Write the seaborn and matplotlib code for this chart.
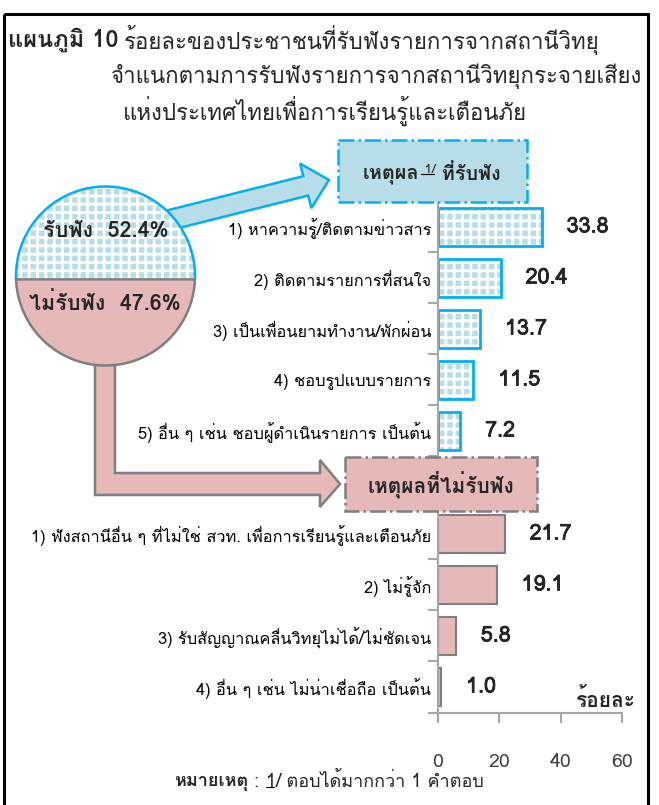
import numpy as np
import pandas as pd
import seaborn as sns
import matplotlib.pyplot as plt
import matplotlib.patheffects as pe
from matplotlib import font_manager as fm
from matplotlib.ft2font import FT2Font
from matplotlib.patches import Rectangle, Polygon, FancyArrow

# data
listen_share = 52.4
not_listen_share = 47.6

listen_reasons = ["1) หาความรู้/ติดตามข่าวสาร", "2) ติดตามรายการที่สนใจ",
                  "3) เป็นเพื่อนยามทำงาน/พักผ่อน", "4) ชอบรูปแบบรายการ",
                  "5) อื่น ๆ เช่น ชอบผู้ดำเนินรายการ เป็นต้น"]
listen_pct = [33.8, 20.4, 13.7, 11.5, 7.2]

not_listen_reasons = ["1) ฟังสถานีอื่น ๆ ที่ไม่ใช่ สวท. เพื่อการเรียนรู้และเตือนภัย",
                      "2) ไม่รู้จัก", "3) รับสัญญาณคลื่นวิทยุไม่ได้/ไม่ชัดเจน",
                      "4) อื่น ๆ เช่น ไม่น่าเชื่อถือ เป็นต้น"]
not_listen_pct = [21.7, 19.1, 5.8, 1.0]

x_ticks = [0, 20, 40, 60]

BLUE_FILL = "#b7dde8"
BLUE_EDGE = "#00b0f0"
PINK_FILL = "#e6b8b7"
GRAY = "#7f7f7f"
AXIS_GRAY = "#a6a6a6"


def find_thai_font():
    weights = {}
    for f in fm.fontManager.ttflist:
        try:
            if 0x0E01 in FT2Font(f.fname).get_charmap():
                w = f.weight if isinstance(f.weight, int) else 400
                weights.setdefault(f.name, set()).add(w)
        except Exception:
            continue
    if not weights:
        return None, False
    prefs = ["Tahoma", "Leelawadee UI", "Noto Sans Thai", "Noto Sans Thai Looped",
             "Loma", "Garuda", "Sarabun", "Waree"]
    names = [p for p in prefs if p in weights] + sorted(weights)
    with_bold = [n for n in names if max(weights[n]) >= 600]
    name = with_bold[0] if with_bold else names[0]
    return name, max(weights[name]) >= 600


sns.set_theme(style="white")
thai, has_bold = find_thai_font()
plt.rcParams["font.family"] = [thai, "DejaVu Sans"] if thai else ["DejaVu Sans"]
plt.rcParams["hatch.linewidth"] = 2.0


def bold(stroke=0.9):
    if has_bold:
        return dict(fontweight="bold")
    return dict(path_effects=[pe.withStroke(linewidth=stroke, foreground="black")])


fig = plt.figure(figsize=(6.59, 8.05), dpi=100)
W, H = 659, 805

# background layer in pixel coordinates
bg = fig.add_axes([0, 0, 1, 1])
bg.set_xlim(0, W)
bg.set_ylim(H, 0)
bg.axis("off")
bg.set_zorder(3)

bg.add_patch(Rectangle((4, 14), 644, 800, fill=False, edgecolor="black", lw=2.2))

# title
bg.text(8, 40, "แผนภูมิ 10", fontsize=17, va="center", **bold(1.0))
bg.text(124, 40, "ร้อยละของประชาชนที่รับฟังรายการจากสถานีวิทยุ", fontsize=16, va="center")
bg.text(111, 76, "จำแนกตามการรับฟังรายการจากสถานีวิทยุกระจายเสียง", fontsize=16, va="center")
bg.text(123, 111, "แห่งประเทศไทยเพื่อการเรียนรู้และเตือนภัย", fontsize=16, va="center")

# arrows
bg.add_patch(FancyArrow(150, 225, 179, -45, width=20, head_width=46, head_length=24,
                        length_includes_head=True, facecolor=BLUE_FILL,
                        edgecolor=BLUE_EDGE, lw=1.8, zorder=1))
bg.add_patch(Polygon([(95, 330), (115, 330), (115, 473), (320, 473), (320, 460),
                      (340, 484), (320, 507), (320, 495), (95, 495)], closed=True,
                     facecolor=PINK_FILL, edgecolor=GRAY, lw=1.8, zorder=1))

# split circle: top area = listen share
cx, cy, r = 105.5, 276, 89.5
frac_below = not_listen_share / (listen_share + not_listen_share)
lo, hi = -r, r
for _ in range(60):
    d = (lo + hi) / 2
    th = 2 * np.arccos(d / r)
    if (th - np.sin(th)) / (2 * np.pi) > frac_below:
        lo = d
    else:
        hi = d
a0 = np.arcsin(d / r)
t_top = np.linspace(-a0, np.pi + a0, 200)
t_bot = np.linspace(np.pi + a0, 2 * np.pi - a0, 200)
top_pts = np.column_stack([cx + r * np.cos(t_top), cy - r * np.sin(t_top)])
bot_pts = np.column_stack([cx + r * np.cos(t_bot), cy - r * np.sin(t_bot)])
bg.add_patch(Polygon(top_pts, closed=True, facecolor=BLUE_FILL, edgecolor="white",
                     hatch="++", lw=0, zorder=2))
bg.plot(top_pts[:, 0], top_pts[:, 1], color=BLUE_EDGE, lw=1.8, zorder=2)
bg.add_patch(Polygon(bot_pts, closed=True, facecolor=PINK_FILL, edgecolor=GRAY,
                     lw=1.8, zorder=2))
bg.text(cx, 231, f"รับฟัง  {listen_share:.1f}%", fontsize=15.5,
        ha="center", va="center", zorder=4, **bold(0.7))
bg.text(cx - 1, 303, f"ไม่รับฟัง  {not_listen_share:.1f}%", fontsize=15.5,
        ha="center", va="center", zorder=4, **bold(0.7))

# header boxes
bg.add_patch(Rectangle((338, 140), 189, 62, facecolor=BLUE_FILL, edgecolor=BLUE_EDGE,
                       lw=1.8, ls="-.", zorder=2))
bg.add_patch(Rectangle((345, 457), 192, 54, facecolor=PINK_FILL, edgecolor=GRAY,
                       lw=1.8, ls="-.", zorder=2))
bg.text(441, 485, "เหตุผลที่ไม่รับฟัง", fontsize=15,
        ha="center", va="center", zorder=4, **bold(1.0))


def chain(x, y, pieces):
    texts = []
    for s, rise, kw in pieces:
        if not texts:
            t = bg.text(x, y, s, ha="left", va="bottom", zorder=5, **kw)
        else:
            t = bg.annotate(s, xy=(1, rise), xycoords=(texts[-1], texts[0]),
                            ha="left", va="bottom", zorder=5, **kw)
        texts.append(t)
    return texts


def center_chain(texts, center_x):
    fig.canvas.draw()
    x0 = texts[0].get_window_extent().x0
    x1 = texts[-1].get_window_extent().x1
    x, y = texts[0].get_position()
    texts[0].set_position((center_x - (x1 - x0) / 2, y))


def underline(t):
    fig.canvas.draw()
    bb = t.get_window_extent()
    inv = bg.transData.inverted()
    (ax0, ay0), (ax1_, ay1) = inv.transform([(bb.x0, bb.y0), (bb.x1, bb.y1)])
    yl = ay0 - (ay0 - ay1) * 0.2
    bg.plot([ax0 + 1, ax1_ - 1], [yl, yl], color="black", lw=0.8, zorder=5)


box_txt = chain(362, 184, [("เหตุผล", 0, dict(fontsize=14.3, **bold(1.0))),
                            (" 1/", 0.42, dict(fontsize=9.5)),
                            (" ที่รับฟัง", 0, dict(fontsize=14.3, **bold(1.0)))])
center_chain(box_txt, 432)

note = chain(172, 791, [("หมายเหตุ", 0, dict(fontsize=13, **bold(0.8))),
                        (" : ", 0, dict(fontsize=13)),
                        ("1", 0, dict(fontsize=13)),
                        ("/ ตอบได้มากกว่า 1 คำตอบ", 0, dict(fontsize=13))])
center_chain(note, 329)

bg.text(606, 699, "ร้อยละ", fontsize=15, ha="center", va="center", **bold(0.9))


def style_bar_axes(ax, n):
    ax.set_facecolor("none")
    ax.set_xlim(0, 60)
    ax.set_ylim(n - 0.5, -0.5)
    ax.set_xlabel("")
    ax.set_ylabel("")
    for s in ["top", "right"]:
        ax.spines[s].set_visible(False)
    ax.spines["left"].set_color(AXIS_GRAY)
    ax.spines["left"].set_linewidth(1.5)
    ax.set_yticks(np.arange(-0.5, n), minor=True)
    ax.tick_params(axis="y", which="major", length=0, pad=5, labelsize=11.8,
                   labelcolor="black")
    ax.tick_params(axis="y", which="minor", left=True, length=7, width=1.5,
                   color=AXIS_GRAY, direction="out")


value_fx = [pe.withStroke(linewidth=0.5, foreground="black")]

# listened reasons
ax1 = fig.add_axes([438 / W, 1 - 456.5 / H, 184 / W, 255 / H])
sns.barplot(x=listen_pct, y=listen_reasons, orient="h", color=BLUE_FILL,
            saturation=1, width=0.75, ax=ax1)
style_bar_axes(ax1, len(listen_pct))
ax1.spines["bottom"].set_visible(False)
ax1.set_xticks([])
for bar in list(ax1.patches):
    bar.set_hatch("++")
    bar.set_edgecolor("white")
    bar.set_linewidth(0)
    ax1.add_patch(Rectangle(bar.get_xy(), bar.get_width(), bar.get_height(),
                            fill=False, edgecolor=BLUE_EDGE, lw=2))
ax1.bar_label(ax1.containers[0], labels=[f"{v:.1f}" for v in listen_pct],
              padding=18, fontsize=15.5, path_effects=value_fx)

# not-listened reasons
ax2 = fig.add_axes([438 / W, 1 - 712.5 / H, 184 / W, 204 / H])
sns.barplot(x=not_listen_pct, y=not_listen_reasons, orient="h", color=PINK_FILL,
            saturation=1, width=0.75, edgecolor=GRAY, linewidth=1.5, ax=ax2)
style_bar_axes(ax2, len(not_listen_pct))
ax2.spines["bottom"].set_color(AXIS_GRAY)
ax2.spines["bottom"].set_linewidth(1.5)
ax2.set_xticks(x_ticks)
ax2.tick_params(axis="x", bottom=True, length=7, width=1.5, color=AXIS_GRAY,
                pad=22, labelsize=14, labelcolor="#404040")
ax2.bar_label(ax2.containers[0], labels=[f"{v:.1f}" for v in not_listen_pct],
              padding=18, fontsize=15.5, path_effects=value_fx)

underline(note[2])
underline(box_txt[1])

fig.savefig("out.png", dpi=100)
